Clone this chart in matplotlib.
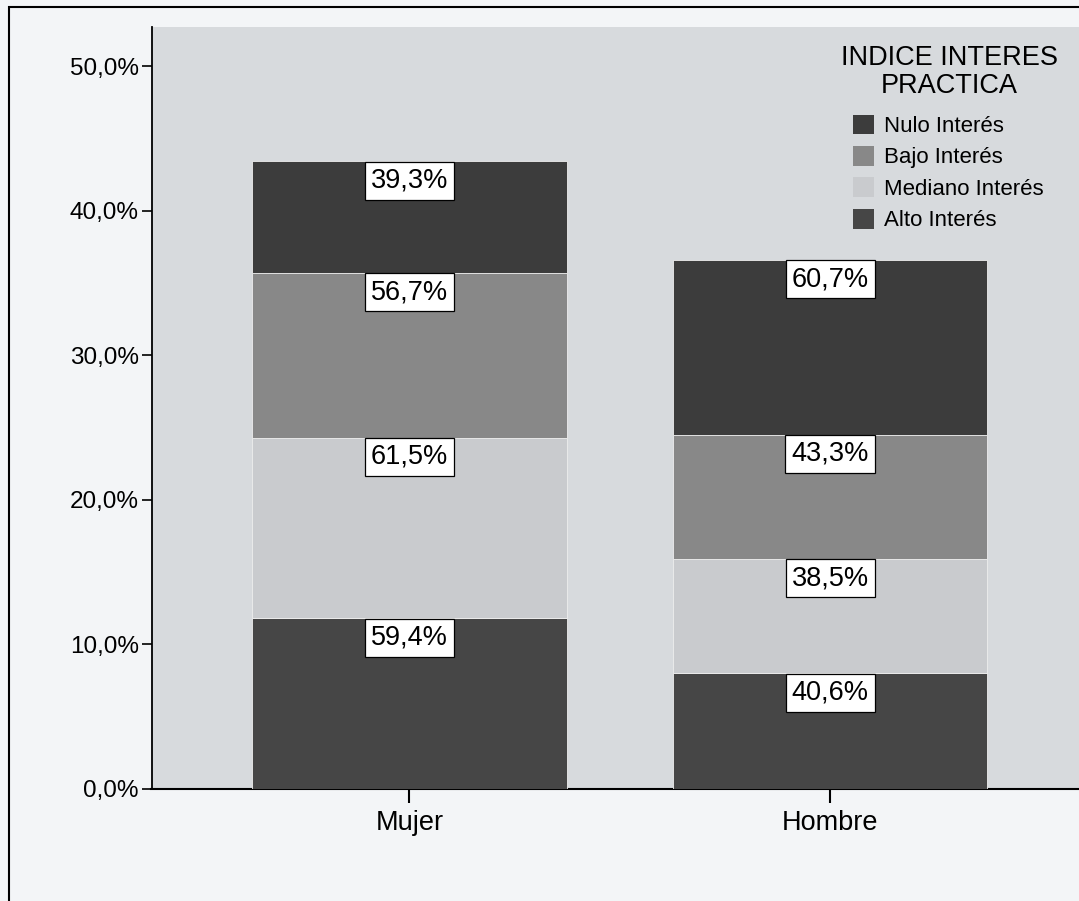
import numpy as np
import matplotlib.pyplot as plt
from matplotlib.patches import Patch, Rectangle

plt.rcParams['font.family'] = ['Liberation Sans', 'DejaVu Sans']

# categories and stacked values (% of total)
sexo = ['Mujer', 'Hombre']
alto = [11.8, 8.0]
mediano = [12.5, 7.9]
bajo = [11.4, 8.6]
nulo = [7.7, 12.1]

# percentages printed inside each segment
etq_alto = ['59,4%', '40,6%']
etq_mediano = ['61,5%', '38,5%']
etq_bajo = ['56,7%', '43,3%']
etq_nulo = ['39,3%', '60,7%']

yticks = [0, 10, 20, 30, 40, 50]
ytick_labels = ['0,0%', '10,0%', '20,0%', '30,0%', '40,0%', '50,0%']

# bottom -> top
series = [
    ('Alto Interés', alto, etq_alto, '#464646'),
    ('Mediano Interés', mediano, etq_mediano, '#c9cbce'),
    ('Bajo Interés', bajo, etq_bajo, '#888888'),
    ('Nulo Interés', nulo, etq_nulo, '#3c3c3c'),
]

fig = plt.figure(figsize=(10.79, 9.01), dpi=100)
fig.patch.set_facecolor('#f3f5f7')

# outer frame (cut at right and bottom like the scan)
fig.patches.append(Rectangle((0.008, -0.2), 1.2, 0.992 + 0.2, transform=fig.transFigure,
                             fill=False, edgecolor='black', linewidth=1.5))

ax = fig.add_axes([151.5 / 1079, 1 - 789 / 901, (1088 - 151.5) / 1079, (789 - 27) / 901])
ax.set_facecolor('#d7dadd')

x = np.arange(len(sexo))
bottom = np.zeros(len(sexo))
for nombre, vals, etqs, color in series:
    vals = np.array(vals)
    ax.bar(x, vals, width=0.747, bottom=bottom, color=color, edgecolor='#eeeeee',
           linewidth=0.6, zorder=3)
    tops = bottom + vals
    for xi, top, t in zip(x, tops, etqs):
        ax.annotate(t, (xi, top), xytext=(0, -4.5), textcoords='offset points',
                    ha='center', va='top', fontsize=19.5, zorder=5,
                    bbox=dict(boxstyle='square,pad=0.22', facecolor='white',
                              edgecolor='black', linewidth=0.9))
    bottom = tops

ax.set_xlim(-0.613, 1.613)
ax.set_ylim(0, 52.7)
ax.set_xticks(x)
ax.set_xticklabels(sexo, fontsize=19.5)
ax.set_yticks(yticks)
ax.set_yticklabels(ytick_labels, fontsize=17.5)
ax.tick_params(axis='y', length=7, width=1.2, pad=2)
ax.tick_params(axis='x', length=10, width=1.5, pad=5)

for s in ['top', 'right']:
    ax.spines[s].set_visible(False)
ax.spines['left'].set_linewidth(1.3)
ax.spines['bottom'].set_linewidth(1.5)
ax.spines['bottom'].set_zorder(2)

# legend title drawn on its own so the gap to the entries can match
fig.text(949.5 / 1079, 1 - 45 / 901, 'INDICE INTERES\nPRACTICA', ha='center', va='top',
         fontsize=19.5, linespacing=1.08, multialignment='center')

handles = [Patch(facecolor=c) for _, _, _, c in series[::-1]]
labels = [n for n, _, _, _ in series[::-1]]
leg = ax.legend(handles, labels, loc='upper left',
                bbox_to_anchor=(853 / 1079, 1 - 114.5 / 901), bbox_transform=fig.transFigure,
                frameon=False, fontsize=16, borderpad=0, borderaxespad=0,
                handlelength=0.95, handleheight=1.0, handletextpad=0.45,
                labelspacing=0.4)

fig.savefig('out.png', dpi=100, facecolor=fig.get_facecolor())
